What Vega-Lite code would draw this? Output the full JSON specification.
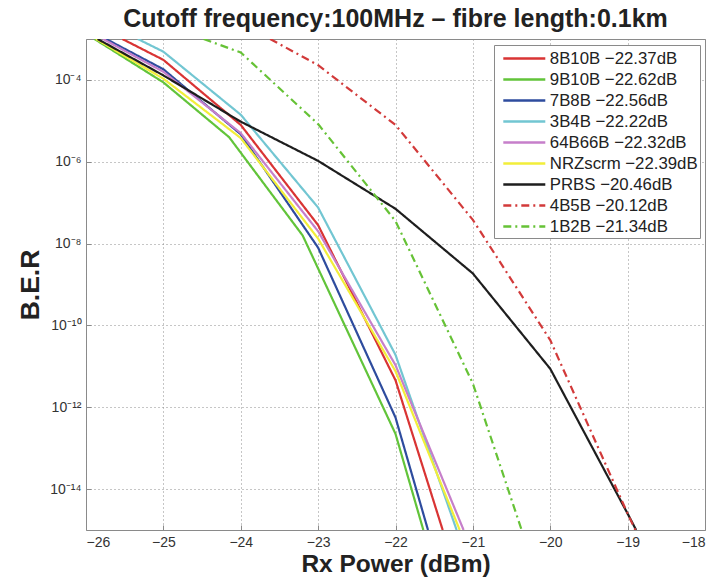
{
  "$schema": "https://vega.github.io/schema/vega-lite/v6.json",
  "width": 619,
  "height": 491,
  "autosize": "none",
  "padding": {"left": 86, "top": 39, "right": 14, "bottom": 47},
  "background": "white",
  "title": {"text": "Cutoff frequency:100MHz – fibre length:0.1km", "fontSize": 25, "fontWeight": "bold", "font": "Liberation Sans", "color": "#222222", "anchor": "middle", "offset": 7},
  "data": {"values": [
    {"series": "8B10B −22.37dB", "x": -25.53, "ber": 1e-3},
    {"series": "8B10B −22.37dB", "x": -25, "ber": 3.09e-4},
    {"series": "8B10B −22.37dB", "x": -24, "ber": 7.94e-6},
    {"series": "8B10B −22.37dB", "x": -23, "ber": 2.82e-8},
    {"series": "8B10B −22.37dB", "x": -22, "ber": 4.57e-12},
    {"series": "8B10B −22.37dB", "x": -21.39, "ber": 1e-15},
    {"series": "9B10B −22.62dB", "x": -25.89, "ber": 1e-3},
    {"series": "9B10B −22.62dB", "x": -25, "ber": 8.71e-5},
    {"series": "9B10B −22.62dB", "x": -24.15, "ber": 3.98e-6},
    {"series": "9B10B −22.62dB", "x": -23.2, "ber": 1.58e-8},
    {"series": "9B10B −22.62dB", "x": -22, "ber": 2.24e-13},
    {"series": "9B10B −22.62dB", "x": -21.64, "ber": 1e-15},
    {"series": "7B8B −22.56dB", "x": -25.74, "ber": 1e-3},
    {"series": "7B8B −22.56dB", "x": -25, "ber": 1.82e-4},
    {"series": "7B8B −22.56dB", "x": -24, "ber": 4.68e-6},
    {"series": "7B8B −22.56dB", "x": -23, "ber": 7.94e-9},
    {"series": "7B8B −22.56dB", "x": -22, "ber": 5.62e-13},
    {"series": "7B8B −22.56dB", "x": -21.58, "ber": 1e-15},
    {"series": "3B4B −22.22dB", "x": -25.33, "ber": 1e-3},
    {"series": "3B4B −22.22dB", "x": -25, "ber": 4.9e-4},
    {"series": "3B4B −22.22dB", "x": -24, "ber": 1.41e-5},
    {"series": "3B4B −22.22dB", "x": -23, "ber": 7.59e-8},
    {"series": "3B4B −22.22dB", "x": -22, "ber": 1.91e-11},
    {"series": "3B4B −22.22dB", "x": -21.21, "ber": 1e-15},
    {"series": "64B66B −22.32dB", "x": -25.78, "ber": 1e-3},
    {"series": "64B66B −22.32dB", "x": -25, "ber": 1.58e-4},
    {"series": "64B66B −22.32dB", "x": -24, "ber": 5.01e-6},
    {"series": "64B66B −22.32dB", "x": -23, "ber": 2.0e-8},
    {"series": "64B66B −22.32dB", "x": -22, "ber": 1.07e-11},
    {"series": "64B66B −22.32dB", "x": -21.12, "ber": 1e-15},
    {"series": "NRZscrm −22.39dB", "x": -25.87, "ber": 1e-3},
    {"series": "NRZscrm −22.39dB", "x": -25, "ber": 1.07e-4},
    {"series": "NRZscrm −22.39dB", "x": -24, "ber": 3.8e-6},
    {"series": "NRZscrm −22.39dB", "x": -23, "ber": 1.32e-8},
    {"series": "NRZscrm −22.39dB", "x": -22, "ber": 7.59e-12},
    {"series": "NRZscrm −22.39dB", "x": -21.17, "ber": 1e-15},
    {"series": "PRBS −20.46dB", "x": -25.85, "ber": 1e-3},
    {"series": "PRBS −20.46dB", "x": -25, "ber": 1.29e-4},
    {"series": "PRBS −20.46dB", "x": -24, "ber": 9.55e-6},
    {"series": "PRBS −20.46dB", "x": -23, "ber": 1.05e-6},
    {"series": "PRBS −20.46dB", "x": -22, "ber": 7.08e-8},
    {"series": "PRBS −20.46dB", "x": -21, "ber": 1.86e-9},
    {"series": "PRBS −20.46dB", "x": -20, "ber": 8.71e-12},
    {"series": "PRBS −20.46dB", "x": -19, "ber": 2.51e-15},
    {"series": "PRBS −20.46dB", "x": -18.89, "ber": 1e-15},
    {"series": "4B5B −20.12dB", "x": -23.62, "ber": 1e-3},
    {"series": "4B5B −20.12dB", "x": -23, "ber": 2.29e-4},
    {"series": "4B5B −20.12dB", "x": -22, "ber": 7.94e-6},
    {"series": "4B5B −20.12dB", "x": -21, "ber": 3.8e-8},
    {"series": "4B5B −20.12dB", "x": -20, "ber": 4.37e-11},
    {"series": "4B5B −20.12dB", "x": -19, "ber": 2.51e-15},
    {"series": "4B5B −20.12dB", "x": -18.9, "ber": 1e-15},
    {"series": "1B2B −21.34dB", "x": -24.48, "ber": 1e-3},
    {"series": "1B2B −21.34dB", "x": -24, "ber": 4.68e-4},
    {"series": "1B2B −21.34dB", "x": -23, "ber": 8.32e-6},
    {"series": "1B2B −21.34dB", "x": -22, "ber": 3.55e-8},
    {"series": "1B2B −21.34dB", "x": -21, "ber": 3.8e-12},
    {"series": "1B2B −21.34dB", "x": -20.37, "ber": 1e-15}
  ]},
  "mark": {"type": "line", "clip": true, "strokeWidth": 2.2},
  "encoding": {
    "x": {"field": "x", "type": "quantitative",
      "scale": {"domain": [-26, -18], "nice": false, "zero": false},
      "axis": {"title": "Rx Power (dBm)", "titleFontSize": 24.5, "values": [-26, -25, -24, -23, -22, -21, -20, -19, -18], "format": "d", "titlePadding": 3}},
    "y": {"field": "ber", "type": "quantitative",
      "scale": {"type": "log", "domain": [1e-15, 1e-3], "nice": false},
      "axis": {"title": "B.E.R", "titleFontSize": 26.5, "values": [1e-14, 1e-12, 1e-10, 1e-8, 1e-6, 1e-4], "titlePadding": 5,
        "labelExpr": "'10' + (round(log(datum.value)/LN10) == -4 ? '⁻⁴' : round(log(datum.value)/LN10) == -6 ? '⁻⁶' : round(log(datum.value)/LN10) == -8 ? '⁻⁸' : round(log(datum.value)/LN10) == -10 ? '⁻¹⁰' : round(log(datum.value)/LN10) == -12 ? '⁻¹²' : '⁻¹⁴')"}},
    "color": {"field": "series", "type": "nominal", "sort": null,
      "scale": {"domain": ["8B10B −22.37dB", "9B10B −22.62dB", "7B8B −22.56dB", "3B4B −22.22dB", "64B66B −22.32dB", "NRZscrm −22.39dB", "PRBS −20.46dB", "4B5B −20.12dB", "1B2B −21.34dB"],
        "range": ["#d93434", "#62c43a", "#2e4c9e", "#72c6d2", "#c67fca", "#f2ee3a", "#1e1e1e", "#d23a3a", "#66c236"]},
      "legend": {"title": null}},
    "strokeDash": {"field": "series", "type": "nominal", "sort": null,
      "scale": {"domain": ["8B10B −22.37dB", "9B10B −22.62dB", "7B8B −22.56dB", "3B4B −22.22dB", "64B66B −22.32dB", "NRZscrm −22.39dB", "PRBS −20.46dB", "4B5B −20.12dB", "1B2B −21.34dB"],
        "range": [[1, 0], [1, 0], [1, 0], [1, 0], [1, 0], [1, 0], [1, 0], [8, 4, 2, 4], [8, 4, 2, 4]]},
      "legend": {"title": null}}
  },
  "config": {
    "view": {"stroke": "#8a8a8a", "strokeWidth": 1},
    "axis": {"domain": false, "ticks": true, "tickSize": -5, "tickColor": "#8a8a8a", "grid": true, "gridColor": "#8c8c8c", "gridDash": [1, 3], "gridWidth": 1,
      "labelFont": "Liberation Sans", "labelFontSize": 14, "labelColor": "#333333", "labelPadding": 10,
      "titleFont": "Liberation Sans", "titleFontWeight": "bold", "titleColor": "#222222"},
    "legend": {"orient": "none", "legendX": 408, "legendY": 6, "fillColor": "white", "strokeColor": "#8a8a8a", "padding": 2,
      "symbolType": "M-0.42,0H3.78", "symbolSize": 400, "symbolStrokeWidth": 2.5, "labelFont": "Liberation Sans", "labelFontSize": 16.8,
      "labelColor": "#222222", "rowPadding": -0.65, "labelOffset": 30.8, "labelLimit": 300, "cornerRadius": 0}
  }
}
